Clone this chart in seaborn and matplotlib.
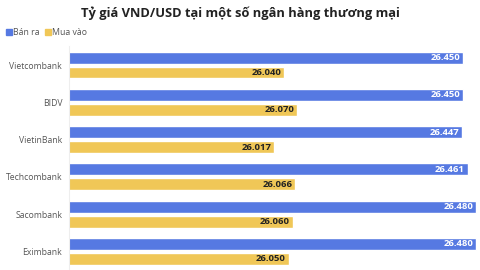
import pandas as pd
import seaborn as sns
import matplotlib.pyplot as plt
from matplotlib.lines import Line2D

# dữ liệu tỷ giá (VND/USD)
ngan_hang = ["Vietcombank", "BIDV", "VietinBank", "Techcombank", "Sacombank", "Eximbank"]
ban_ra = [26450, 26450, 26447, 26461, 26480, 26480]
mua_vao = [26040, 26070, 26017, 26066, 26060, 26050]
nhom = ["Bán ra", "Mua vào"]
mau = ["#5679e2", "#f0c757"]

df = pd.DataFrame({
    "ngan_hang": ngan_hang * 2,
    "gia": ban_ra + mua_vao,
    "loai": [nhom[0]] * len(ngan_hang) + [nhom[1]] * len(ngan_hang),
})

sns.set_style("white")
plt.rcParams["font.family"] = ["Open Sans", "DejaVu Sans"]

fig = plt.figure(figsize=(4.8, 2.7), dpi=100)
ax = fig.add_axes([0.144, 0.0, 0.856, 0.828])

sns.barplot(data=df, y="ngan_hang", x="gia", hue="loai", palette=mau,
            orient="h", width=0.8, gap=0.2, saturation=1, legend=False, ax=ax)

ax.set_xlim(25547, 26489)
ax.set_ylim(5.5, -0.5)
ax.set_xlabel("")
ax.set_ylabel("")
ax.set_xticks([])
ax.tick_params(axis="y", length=0, pad=5, labelsize=6.2, labelcolor="#555555")
for s in ["top", "right", "bottom"]:
    ax.spines[s].set_visible(False)
ax.spines["left"].set_color("#eeeeee")
ax.spines["left"].set_linewidth(0.8)

# nhãn giá trị trong đầu thanh
for cont, vals, c in zip(ax.containers, [ban_ra, mua_vao], ["white", "#222222"]):
    for p, v in zip(cont.patches, vals):
        ax.annotate(f"{v:,}".replace(",", "."),
                    (p.get_x() + p.get_width(), p.get_y() + p.get_height() / 2),
                    xytext=(-2, 0), textcoords="offset points",
                    ha="right", va="center", fontsize=6.8, fontweight="bold",
                    color=c, annotation_clip=False)

fig.text(0.5, 0.952, "Tỷ giá VND/USD tại một số ngân hàng thương mại",
         ha="center", va="center", fontsize=9.3, fontweight="bold", color="#222222")

handles = [Line2D([], [], marker="s", linestyle="", markersize=4.5,
                  markerfacecolor=m, markeredgecolor=m) for m in mau]
fig.legend(handles, nhom, loc="center left", bbox_to_anchor=(0.0, 0.88),
           ncol=2, frameon=False, fontsize=6.3, labelcolor="#555555",
           handletextpad=0.2, columnspacing=0.6, handlelength=0.6, borderpad=0.2)

fig.savefig("out.png", dpi=100)
